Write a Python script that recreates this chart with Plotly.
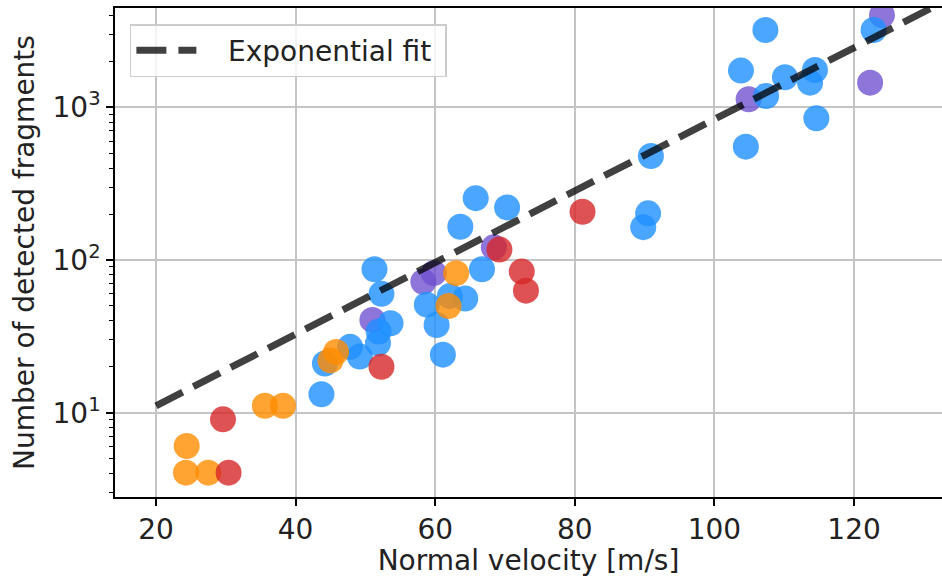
import plotly.graph_objects as go

# Measured fragment counts versus normal impact velocity, grouped by series
blue_v = [43.7, 44.2, 47.8, 49.2, 51.3, 52.3, 53.6, 51.9, 51.8, 58.8, 60.2, 61.1,
          62.1, 64.3, 63.6, 65.8, 66.7, 70.3, 89.8, 90.5, 90.9, 103.8, 104.5,
          107.3, 107.4, 110.1, 113.7, 114.4, 114.6, 122.8]
blue_n = [13.2, 21, 27, 23.3, 87, 60, 38.5, 34, 28.5, 51, 37.5, 24,
          58, 56, 165, 254, 87, 221, 164, 202, 480, 1738, 552,
          3206, 1186, 1571, 1449, 1755, 847, 3206]

orange_v = [24.4, 24.3, 27.5, 35.6, 38.2, 45.0, 45.8, 61.9, 63.0]
orange_n = [6.05, 4.05, 4.05, 11.1, 11.1, 22, 25, 50, 82]

red_v = [29.6, 30.4, 52.3, 69.2, 72.4, 73.0, 81.1]
red_n = [9.05, 4.05, 20, 117, 84, 63, 207]

purple_v = [51.0, 58.3, 59.8, 68.4, 104.9, 122.3, 124.0]
purple_n = [40.5, 72, 82, 121, 1128, 1449, 4020]

# Exponential fit: a straight line on the log axis between its two end points
fit_v = [20, 135]
fit_n = [11.1, 5520]

x_ticks = [20, 40, 60, 80, 100, 120]
y_ticks = [10, 100, 1000]
y_ticklabels = ["10<sup>1</sup>", "10<sup>2</sup>", "10<sup>3</sup>"]
y_minor = [m * d for d in (1, 10, 100, 1000) for m in range(2, 10)]

FONT = "DejaVu Sans"
TEXT = "#222222"

fig = go.Figure()

groups = [
    (purple_v, purple_n, "rgba(112, 82, 208, 0.8)"),
    (blue_v, blue_n, "rgba(30, 144, 255, 0.8)"),
    (orange_v, orange_n, "rgba(255, 140, 0, 0.8)"),
    (red_v, red_n, "rgba(214, 39, 40, 0.8)"),
]
for vs, ns, col in groups:
    fig.add_trace(go.Scatter(
        x=vs, y=ns, mode="markers", showlegend=False, hoverinfo="x+y",
        marker=dict(size=26, color=col, line=dict(width=0)),
    ))

fig.add_trace(go.Scatter(
    x=fit_v, y=fit_n, mode="lines",
    name="\u00a0\u00a0\u00a0Exponential fit\u00a0",
    line=dict(color="rgba(0,0,0,0.75)", width=7, dash="30px,12px"),
))

fig.update_layout(
    width=942, height=577,
    margin=dict(l=115, r=0, t=8, b=80, pad=0),
    paper_bgcolor="white", plot_bgcolor="white",
    font=dict(family=FONT, size=28, color=TEXT),
    legend=dict(
        x=0.018, y=0.967, xanchor="left", yanchor="top",
        itemwidth=60,
        bgcolor="rgba(255,255,255,0.8)", bordercolor="#cccccc", borderwidth=1.5,
        font=dict(family=FONT, size=28, color=TEXT),
    ),
    xaxis=dict(
        range=[14.13, 132.6], tickmode="array", tickvals=x_ticks,
        ticks="outside", ticklen=7, tickwidth=1.6, tickcolor="black",
        showline=True, linewidth=1.6, linecolor="black", mirror=True,
        showgrid=True, gridcolor="#c4c4c4", gridwidth=2, zeroline=False,
        title=dict(text="Normal velocity [m/s]", standoff=6,
                   font=dict(family=FONT, size=28, color=TEXT)),
        tickfont=dict(family=FONT, size=28, color=TEXT),
    ),
    yaxis=dict(
        type="log", range=[0.448, 3.650], tickmode="array",
        tickvals=y_ticks, ticktext=y_ticklabels,
        ticks="outside", ticklen=7, tickwidth=1.6, tickcolor="black",
        minor=dict(tickmode="array", tickvals=y_minor, ticks="outside",
                   ticklen=4, tickwidth=1.2, tickcolor="black", showgrid=False),
        showline=True, linewidth=1.6, linecolor="black", mirror=False,
        showgrid=True, gridcolor="#c4c4c4", gridwidth=2, zeroline=False,
        title=dict(text="Number of detected fragments", standoff=10,
                   font=dict(family=FONT, size=28, color=TEXT)),
        tickfont=dict(family=FONT, size=28, color=TEXT),
    ),
)

fig.write_html("out.html")
